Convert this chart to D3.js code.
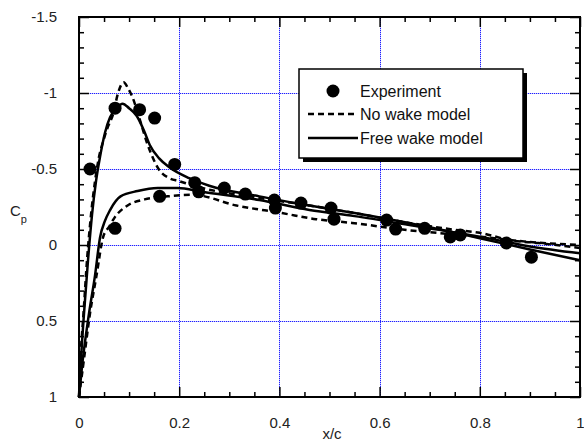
<!DOCTYPE html>
<html><head><meta charset="utf-8">
<script src="https://cdn.jsdelivr.net/npm/d3@7"></script>
<style>body{margin:0;background:#fff;}svg{display:block;}</style>
</head><body>
<svg id="c" width="584" height="446"></svg>
<script>
// ---- data ----
const xTicks = [0, 0.2, 0.4, 0.6, 0.8, 1];
const xTickLabels = ["0", "0.2", "0.4", "0.6", "0.8", "1"];
const yTicks = [-1.5, -1, -0.5, 0, 0.5, 1];
const yTickLabels = ["-1.5", "-1", "-0.5", "0", "0.5", "1"];
const legendLabels = ["Experiment", "No wake model", "Free wake model"];

const expX = [0.022, 0.072, 0.121, 0.151, 0.191, 0.072, 0.161, 0.231, 0.239, 0.29, 0.332, 0.39, 0.392, 0.443, 0.503, 0.509, 0.614, 0.632, 0.69, 0.741, 0.761, 0.853, 0.903];
const expCp = [-0.5, -0.9, -0.89, -0.835, -0.53, -0.11, -0.32, -0.41, -0.35, -0.375, -0.335, -0.296, -0.243, -0.276, -0.243, -0.17, -0.164, -0.105, -0.11, -0.053, -0.066, -0.013, 0.08];

const freeUpperX = [0, 0.004, 0.01, 0.018, 0.026, 0.034, 0.042, 0.052, 0.062, 0.075, 0.087, 0.1, 0.115, 0.13, 0.141, 0.16, 0.181, 0.22, 0.26, 0.36, 0.46, 0.55, 0.68, 0.8, 0.9, 1.0];
const freeUpperCp = [1, 0.75, 0.45, 0.1, -0.2, -0.42, -0.58, -0.74, -0.84, -0.9, -0.93, -0.9, -0.85, -0.75, -0.66, -0.57, -0.51, -0.44, -0.39, -0.32, -0.26, -0.21, -0.13, -0.045, 0.03, 0.1];
const freeLowerX = [0, 0.006, 0.02, 0.032, 0.042, 0.052, 0.062, 0.083, 0.117, 0.157, 0.197, 0.246, 0.36, 0.46, 0.55, 0.68, 0.8, 0.9, 1.0];
const freeLowerCp = [1, 0.8, 0.45, 0.2, -0.05, -0.16, -0.23, -0.32, -0.355, -0.375, -0.375, -0.35, -0.296, -0.23, -0.19, -0.12, -0.055, 0.01, 0.055];

const noUpperX = [0, 0.003, 0.009, 0.016, 0.024, 0.032, 0.04, 0.048, 0.058, 0.068, 0.078, 0.089, 0.098, 0.107, 0.12, 0.137, 0.161, 0.18, 0.2, 0.24, 0.36, 0.46, 0.55, 0.65, 0.75, 0.8, 0.863, 0.917, 1.0];
const noUpperCp = [1, 0.75, 0.45, 0.1, -0.2, -0.42, -0.58, -0.68, -0.78, -0.86, -1.0, -1.07, -1.03, -0.97, -0.84, -0.66, -0.49, -0.44, -0.42, -0.38, -0.31, -0.26, -0.21, -0.15, -0.1, -0.08, -0.03, -0.013, 0.02];
const noLowerX = [0, 0.008, 0.022, 0.035, 0.048, 0.06, 0.072, 0.097, 0.131, 0.177, 0.227, 0.314, 0.405, 0.473, 0.545, 0.65, 0.8, 0.9, 1.0];
const noLowerCp = [1, 0.8, 0.45, 0.2, -0.05, -0.12, -0.185, -0.26, -0.3, -0.32, -0.33, -0.26, -0.21, -0.17, -0.145, -0.1, -0.055, -0.02, 0.0];

// ---- layout ----
const svg = d3.select("#c");
const L = 79, R = 580, T = 17, B = 397;
const x = d3.scaleLinear().domain([0, 1]).range([L, R]);
const y = d3.scaleLinear().domain([-1.5, 1]).range([T, B]);
const font = "'Liberation Sans', Arial, sans-serif";

// grid: dotted blue, drawn as pixel dots over a faint blue line
const gridBg = svg.append("g").attr("fill", "#c4c4ff").attr("shape-rendering", "crispEdges");
const grid = svg.append("g").attr("fill", "#2020ff").attr("shape-rendering", "crispEdges");
[0.2, 0.4, 0.6, 0.8].forEach(v => {
  const p = Math.round(x(v));
  gridBg.append("rect").attr("x", p).attr("y", T).attr("width", 1).attr("height", B - T);
  grid.selectAll(null).data(d3.range(T + 1, B, 2)).join("rect")
    .attr("x", p).attr("y", d => d).attr("width", 1).attr("height", 1);
});
[-1, -0.5, 0, 0.5].forEach(v => {
  const p = Math.round(y(v));
  gridBg.append("rect").attr("x", L).attr("y", p).attr("width", R - L).attr("height", 1);
  grid.selectAll(null).data(d3.range(L + 1, R, 2)).join("rect")
    .attr("x", d => d).attr("y", p).attr("width", 1).attr("height", 1);
});

// axes with inward ticks
function tickVals(a, b, s) { const out = []; for (let v = a; v <= b + 1e-9; v += s) out.push(+v.toFixed(4)); return out; }
const xMinor = tickVals(0, 1, 0.05).filter(v => !xTicks.some(t => Math.abs(t - v) < 1e-6));
const yMinor = tickVals(-1.5, 1, 0.1).filter(v => !yTicks.some(t => Math.abs(t - v) < 1e-6));
const styleTicks = g => { g.select(".domain").remove(); g.selectAll("line").attr("stroke", "#000").attr("stroke-width", 1.5); };
const styleText = g => g.selectAll("text").attr("font-family", font).attr("font-size", 15).attr("fill", "#222");

svg.append("g").attr("transform", `translate(0,${B})`)
  .call(d3.axisBottom(x).tickValues(xTicks).tickSizeInner(-10).tickSizeOuter(0).tickFormat((d, i) => xTickLabels[i]).tickPadding(20))
  .call(styleTicks).call(styleText);
svg.append("g").attr("transform", `translate(0,${B})`)
  .call(d3.axisBottom(x).tickValues(xMinor).tickSizeInner(-5).tickSizeOuter(0).tickFormat("")).call(styleTicks);
svg.append("g").attr("transform", `translate(0,${T})`)
  .call(d3.axisTop(x).tickValues(xTicks).tickSizeInner(-10).tickSizeOuter(0).tickFormat("")).call(styleTicks);
svg.append("g").attr("transform", `translate(0,${T})`)
  .call(d3.axisTop(x).tickValues(xMinor).tickSizeInner(-5).tickSizeOuter(0).tickFormat("")).call(styleTicks);

svg.append("g").attr("transform", `translate(${L},0)`)
  .call(d3.axisLeft(y).tickValues(yTicks).tickSizeInner(-10).tickSizeOuter(0).tickFormat((d, i) => yTickLabels[i]).tickPadding(22))
  .call(styleTicks).call(styleText);
svg.append("g").attr("transform", `translate(${L},0)`)
  .call(d3.axisLeft(y).tickValues(yMinor).tickSizeInner(-5).tickSizeOuter(0).tickFormat("")).call(styleTicks);
svg.append("g").attr("transform", `translate(${R},0)`)
  .call(d3.axisRight(y).tickValues(yTicks).tickSizeInner(-10).tickSizeOuter(0).tickFormat("")).call(styleTicks);
svg.append("g").attr("transform", `translate(${R},0)`)
  .call(d3.axisRight(y).tickValues(yMinor).tickSizeInner(-5).tickSizeOuter(0).tickFormat("")).call(styleTicks);

// frame
svg.append("rect").attr("x", L).attr("y", T).attr("width", R - L).attr("height", B - T)
  .attr("fill", "none").attr("stroke", "#000").attr("stroke-width", 2);

// curves
const line = d3.line().x(d => x(d[0])).y(d => y(d[1])).curve(d3.curveMonotoneX);
const zip = (a, b) => a.map((v, i) => [v, b[i]]);
const plot = svg.append("g");
[[noUpperX, noUpperCp], [noLowerX, noLowerCp]].forEach(([a, b]) =>
  plot.append("path").attr("d", line(zip(a, b))).attr("fill", "none").attr("stroke", "#000").attr("stroke-width", 2.5).attr("stroke-dasharray", "6,4"));
[[freeUpperX, freeUpperCp], [freeLowerX, freeLowerCp]].forEach(([a, b]) =>
  plot.append("path").attr("d", line(zip(a, b))).attr("fill", "none").attr("stroke", "#000").attr("stroke-width", 2.5));
plot.selectAll("circle.e").data(zip(expX, expCp)).join("circle").attr("class", "e")
  .attr("cx", d => x(d[0])).attr("cy", d => y(d[1])).attr("r", 6.5).attr("fill", "#000");

// axis titles
svg.append("text").attr("x", 332).attr("y", 439).attr("text-anchor", "middle")
  .attr("font-family", font).attr("font-size", 15).attr("fill", "#222").text("x/c");
const cp = svg.append("text").attr("x", 10).attr("y", 216).attr("font-family", font).attr("font-size", 15).attr("fill", "#222");
cp.append("tspan").text("C");
cp.append("tspan").attr("font-size", 11).attr("dy", 7).text("p");

// legend
const lg = svg.append("g");
const bx = 299, by = 69, bw = 224, bh = 89;
lg.append("rect").attr("x", bx + 4).attr("y", by + 4).attr("width", bw).attr("height", bh).attr("fill", "#000");
lg.append("rect").attr("x", bx).attr("y", by).attr("width", bw).attr("height", bh).attr("fill", "#fff").attr("stroke", "#000").attr("stroke-width", 1.5);
const rows = [91, 114, 138];
lg.append("circle").attr("cx", 333).attr("cy", rows[0]).attr("r", 6.5).attr("fill", "#000");
lg.append("line").attr("x1", 308).attr("x2", 356).attr("y1", rows[1]).attr("y2", rows[1]).attr("stroke", "#000").attr("stroke-width", 2.5).attr("stroke-dasharray", "6,4");
lg.append("line").attr("x1", 308).attr("x2", 358).attr("y1", rows[2]).attr("y2", rows[2]).attr("stroke", "#000").attr("stroke-width", 2.5);
legendLabels.forEach((t, i) => lg.append("text").attr("x", 360).attr("y", rows[i]).attr("dy", "0.35em")
  .attr("font-family", font).attr("font-size", 16).attr("fill", "#111").text(t));
</script>
</body></html>
